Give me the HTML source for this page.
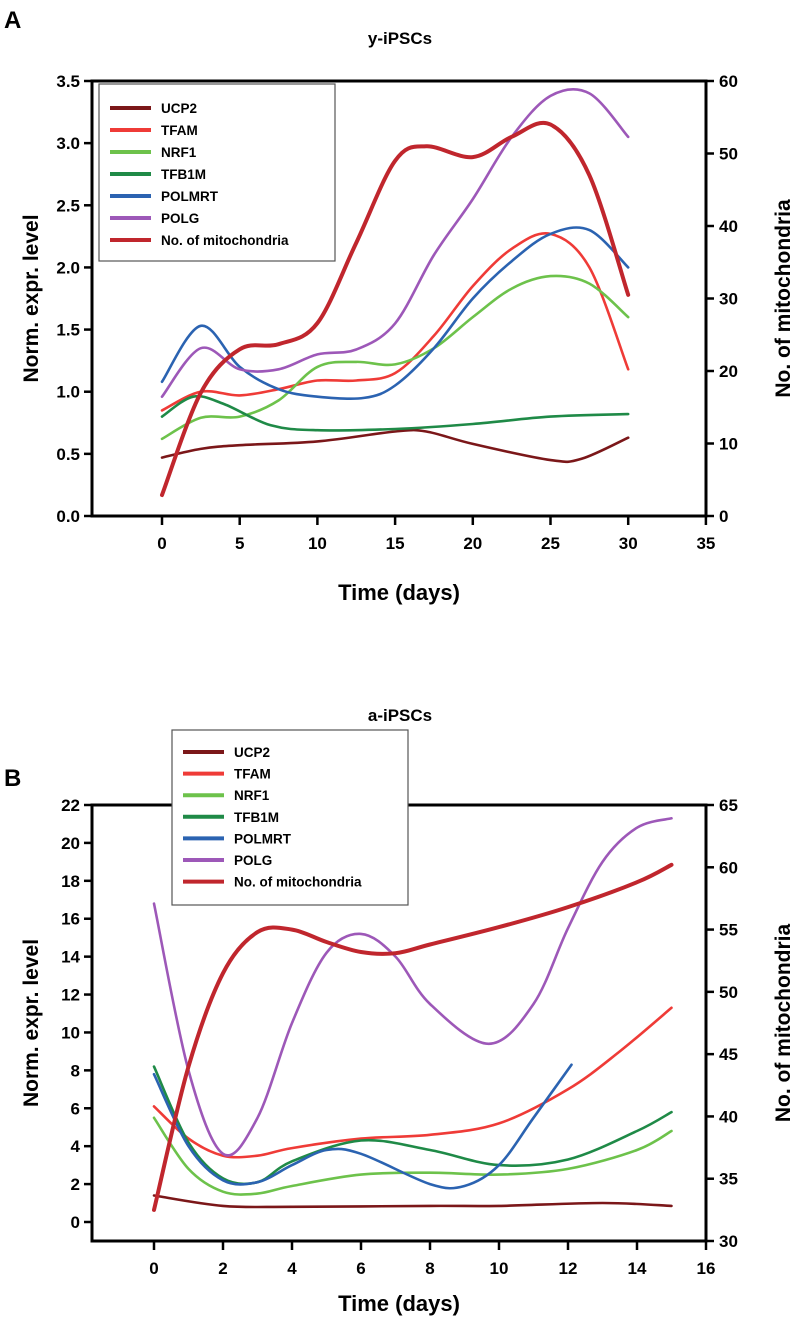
<!DOCTYPE html>
<html><head><meta charset="utf-8">
<style>
body{margin:0;background:#fff;}
svg{display:block;font-family:"Liberation Sans",Arial,sans-serif;font-weight:bold;}
</style></head>
<body>
<svg id="fig" width="797" height="1321" viewBox="0 0 797 1321" xmlns="http://www.w3.org/2000/svg">
<text x="4" y="28" font-size="24">A</text>
<text x="400" y="44" font-size="17" text-anchor="middle">y-iPSCs</text>
<text x="4" y="786" font-size="24">B</text>
<text x="400" y="721" font-size="17" text-anchor="middle">a-iPSCs</text>
<g id="ga"></g>
<g id="gb"></g>
</svg>
<script>
// ---- Chart A data (y-iPSCs) ----
const aX_UCP2=[0,2.5,5,10,15,17,20,25,27,30];
const aY_UCP2=[0.47,0.54,0.57,0.6,0.68,0.68,0.58,0.45,0.46,0.63];
const aX_TFAM=[0,2.5,5,7.5,10,12.5,15,17.5,20,22.5,25,27.5,30];
const aY_TFAM=[0.85,1.0,0.97,1.02,1.09,1.09,1.15,1.45,1.85,2.15,2.27,2.0,1.18];
const aX_NRF1=[0,2.5,5,7.5,10,12.5,15,17.5,20,22.5,25,27.5,30];
const aY_NRF1=[0.62,0.79,0.8,0.93,1.2,1.24,1.22,1.35,1.6,1.83,1.93,1.87,1.6];
const aX_TFB1M=[0,2,4,7,10,15,20,25,30];
const aY_TFB1M=[0.8,0.96,0.9,0.73,0.69,0.7,0.74,0.8,0.82];
const aX_POLMRT=[0,2.5,5,7.5,10,13,15,17.5,20,22.5,25,27.5,30];
const aY_POLMRT=[1.08,1.53,1.2,1.02,0.96,0.95,1.05,1.35,1.75,2.05,2.27,2.3,2.0];
const aX_POLG=[0,2.5,5,7.5,10,12.5,15,17.5,20,22.5,25,27.5,30];
const aY_POLG=[0.96,1.35,1.18,1.18,1.3,1.34,1.55,2.1,2.55,3.05,3.38,3.4,3.05];
const aX_MITO=[0,2.5,5,7.5,10,12.5,15,17,20,22.5,25,27.5,30];
const aY_MITO=[2.9,17,23,23.7,26.6,37.7,49,51,49.5,52.3,54,47,30.5];
const aXTicks=[0,5,10,15,20,25,30,35];
const aYTicks=["0.0","0.5","1.0","1.5","2.0","2.5","3.0","3.5"];
const aRTicks=[0,10,20,30,40,50,60];
// ---- Chart B data (a-iPSCs) ----
const bX_UCP2=[0,2,4,8,10,13,15];
const bY_UCP2=[1.4,0.85,0.8,0.85,0.85,1.0,0.85];
const bX_TFAM=[0,1,2,3,4,6,8,10,12,13.5,15];
const bY_TFAM=[6.1,4.4,3.5,3.5,3.9,4.4,4.6,5.2,7.0,9.0,11.3];
const bX_NRF1=[0,1,2,3,4,6,8,10,12,14,15];
const bY_NRF1=[5.5,2.8,1.6,1.5,1.9,2.5,2.6,2.5,2.8,3.8,4.8];
const bX_TFB1M=[0,1,2,3,4,6,8,10,12,14,15];
const bY_TFB1M=[8.2,4.2,2.3,2.1,3.2,4.3,3.8,3.0,3.3,4.8,5.8];
const bX_POLMRT=[0,1,2,3,4,5,6,8,9,10,11,12.1];
const bY_POLMRT=[7.8,4.0,2.2,2.1,3.0,3.8,3.6,2.0,1.9,3.0,5.5,8.3];
const bX_POLG=[0,1,2,3,4,5,6,7,8,9.7,11,12,13,14,15];
const bY_POLG=[16.8,8.0,3.6,5.5,10.5,14.2,15.2,14.0,11.5,9.4,11.5,15.5,19.0,20.8,21.3];
const bX_MITO=[0,1,2,3,4,5,6,7,8,10,12,14,15];
const bY_MITO=[32.5,44,51.5,54.8,55,54,53.2,53.1,53.8,55.2,56.8,58.8,60.2];
const bXTicks=[0,2,4,6,8,10,12,14,16];
const bYTicks=["0","2","4","6","8","10","12","14","16","18","20","22"];
const bRTicks=[30,35,40,45,50,55,60,65];

const legendNames=["UCP2","TFAM","NRF1","TFB1M","POLMRT","POLG","No. of mitochondria"];
const colors=["#7b1719","#ef3b37","#6dc24b","#1f8a47","#2b63b1","#9d58b8","#c0262d"];
const NS="http://www.w3.org/2000/svg";
function mk(parent,tag,attrs,text){const e=document.createElementNS(NS,tag);for(const k in attrs)e.setAttribute(k,attrs[k]);if(text!==undefined)e.textContent=text;parent.appendChild(e);return e;}
function smooth(pts){let d="M"+pts[0][0].toFixed(1)+","+pts[0][1].toFixed(1);
 for(let i=0;i<pts.length-1;i++){const p0=pts[i-1]||pts[i],p1=pts[i],p2=pts[i+1],p3=pts[i+2]||pts[i+1];
  const c1=[p1[0]+(p2[0]-p0[0])/6,p1[1]+(p2[1]-p0[1])/6],c2=[p2[0]-(p3[0]-p1[0])/6,p2[1]-(p3[1]-p1[1])/6];
  d+="C"+c1[0].toFixed(1)+","+c1[1].toFixed(1)+" "+c2[0].toFixed(1)+","+c2[1].toFixed(1)+" "+p2[0].toFixed(1)+","+p2[1].toFixed(1);}
 return d;}

function chart(g,cfg){
 const L=92,R=706,T=cfg.top,B=cfg.bottom;
 const sx=v=>cfg.x0px+v*cfg.xs;
 const sy=v=>cfg.y0px-(v)*cfg.ys;
 const sr=v=>B-(v-cfg.rmin)/(cfg.rmax-cfg.rmin)*(B-T);
 let e=mk(g,"path",{d:`M${L},${B}H${R}V${T}H${L}Z`,fill:"none",stroke:"#000","stroke-width":3});
 
 
 cfg.xTicks.forEach(v=>{
  e=mk(g,"line",{x1:sx(v),x2:sx(v),y1:B,y2:B+9,stroke:"#000","stroke-width":2.5});
  
  
  e=mk(g,"text",{x:sx(v),y:B+33,"font-size":17,"text-anchor":"middle"},String(v));
  
  
 });
 cfg.yTicks.forEach(s=>{const v=parseFloat(s);
  e=mk(g,"line",{x1:L-8,x2:L,y1:sy(v),y2:sy(v),stroke:"#000","stroke-width":2.5});
  
  
  e=mk(g,"text",{x:L-12,y:sy(v)+6,"font-size":17,"text-anchor":"end"},s);
  
  
 });
 cfg.rTicks.forEach(v=>{
  e=mk(g,"line",{x1:R,x2:R+8,y1:sr(v),y2:sr(v),stroke:"#000","stroke-width":2.5});
  
  
  e=mk(g,"text",{x:R+13,y:sr(v)+6,"font-size":17},String(v));
  
  
 });
 const mid=(T+B)/2;
 e=mk(g,"text",{x:0,y:0,"font-size":21,"text-anchor":"middle",transform:`translate(38,${mid}) rotate(-90)`},"Norm. expr. level");
 
 
 e=mk(g,"text",{x:0,y:0,"font-size":21,"text-anchor":"middle",transform:`translate(790,${mid}) rotate(-90)`},"No. of mitochondria");
 
 
 e=mk(g,"text",{x:(L+R)/2,y:B+92-cfg.tshift,"font-size":22,"text-anchor":"middle"},"Time (days)");
 
 
 cfg.series.forEach((s,i)=>{
  const pts=s[0].map((x,j)=>[sx(x), i===6?sr(s[1][j]):sy(s[1][j])]);
  e=mk(g,"path",{d:smooth(pts),fill:"none",stroke:colors[i],"stroke-width":i===6?4:2.6,"stroke-linecap":"round"});
  
  
 });
 const lg=cfg.legend;
 const lgG=mk(g,"g",{});
 
 
 mk(lgG,"rect",{x:lg.x,y:lg.y,width:lg.w,height:lg.h,fill:"#fff",stroke:"#555","stroke-width":1.2});
 legendNames.forEach((n,i)=>{const yy=lg.y0+i*lg.dy;
  const it=mk(lgG,"g",{});
  
  
  mk(it,"line",{x1:lg.x+11,x2:lg.x+52,y1:yy,y2:yy,stroke:colors[i],"stroke-width":4});
  mk(it,"text",{x:lg.x+62,y:yy+5,"font-size":13.5},n);
 });
}
chart(document.getElementById("ga"),{top:81,bottom:516,x0px:162,xs:77.7/5,y0px:516,ys:(516-81)/3.5,rmin:0,rmax:60,
 xTicks:aXTicks,yTicks:aYTicks,rTicks:aRTicks,tshift:8,
 series:[[aX_UCP2,aY_UCP2],[aX_TFAM,aY_TFAM],[aX_NRF1,aY_NRF1],[aX_TFB1M,aY_TFB1M],[aX_POLMRT,aY_POLMRT],[aX_POLG,aY_POLG],[aX_MITO,aY_MITO]],
 legend:{x:99,y:84,w:236,h:177,y0:108,dy:22}});
chart(document.getElementById("gb"),{top:805,bottom:1241,x0px:154,xs:69/2,y0px:1222,ys:(1222-805)/22,rmin:30,rmax:65,
 xTicks:bXTicks,yTicks:bYTicks,rTicks:bRTicks,tshift:22,
 series:[[bX_UCP2,bY_UCP2],[bX_TFAM,bY_TFAM],[bX_NRF1,bY_NRF1],[bX_TFB1M,bY_TFB1M],[bX_POLMRT,bY_POLMRT],[bX_POLG,bY_POLG],[bX_MITO,bY_MITO]],
 legend:{x:172,y:730,w:236,h:175,y0:752,dy:21.6}});
</script>
</body></html>
